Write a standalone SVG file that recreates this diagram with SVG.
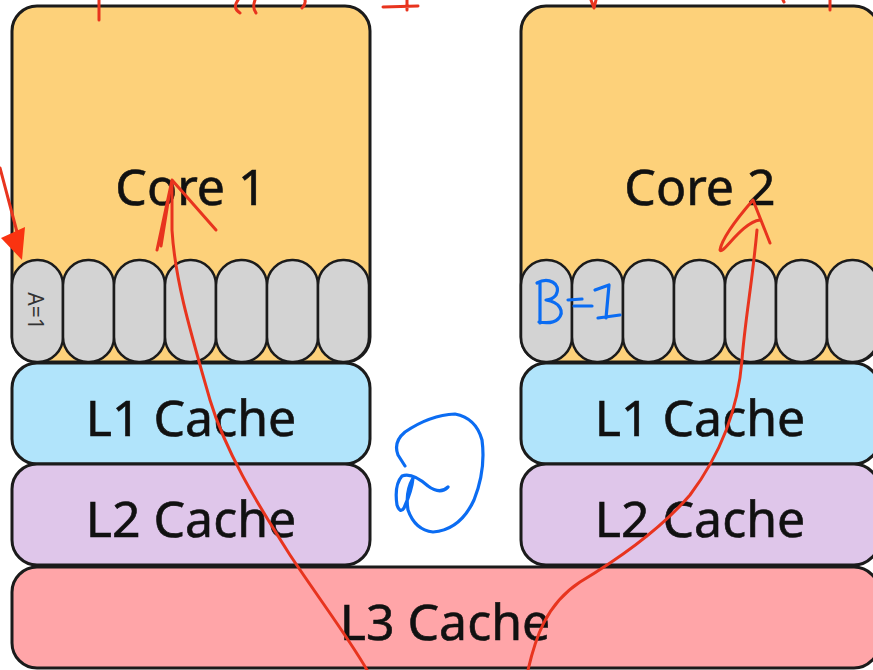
<svg xmlns="http://www.w3.org/2000/svg" width="873" height="670" viewBox="0 0 873 670">
<style>
.box{stroke:#1b1b1b;stroke-width:3}
.core{fill:#fdd17a}
.reg{fill:#d3d3d3;stroke:#1b1b1b;stroke-width:2.5}
.l1{fill:#b1e4fb}
.l2{fill:#dfc6ea}
.l3{fill:#ffa5a8}
.lbl{font-family:"Noto Sans","Open Sans",sans-serif;font-size:50px;fill:#111;stroke:#111;stroke-width:0.6;text-anchor:middle}
.red{fill:none;stroke:#e8341e;stroke-width:3;stroke-linecap:round;stroke-linejoin:round}
.blue{fill:none;stroke:#0b6cf2;stroke-width:3.2;stroke-linecap:round;stroke-linejoin:round}
</style>
<rect width="873" height="670" fill="#ffffff"/>
<g id="core1">
<rect class="box core" x="12" y="6" width="358" height="356" rx="25"/>
<text class="lbl" x="191" y="205">Core 1</text>
</g>
<g id="regs1">
<rect class="reg" x="12" y="260" width="51" height="102" rx="25"/>
<rect class="reg" x="63" y="260" width="51" height="102" rx="25"/>
<rect class="reg" x="114" y="260" width="51" height="102" rx="25"/>
<rect class="reg" x="165" y="260" width="51" height="102" rx="25"/>
<rect class="reg" x="216" y="260" width="51" height="102" rx="25"/>
<rect class="reg" x="267" y="260" width="51" height="102" rx="25"/>
<rect class="reg" x="318" y="260" width="51" height="102" rx="25"/>
<text x="36" y="311" transform="rotate(90 36 311)" font-family="Noto Sans, sans-serif" font-size="21" fill="#333" text-anchor="middle" dominant-baseline="central">A=1</text>
</g>
<g id="l1a">
<rect class="box l1" x="12" y="363" width="358" height="101" rx="25"/>
<text class="lbl" x="191" y="436">L1 Cache</text>
</g>
<g id="l2a">
<rect class="box l2" x="12" y="464" width="358" height="101" rx="25"/>
<text class="lbl" x="191" y="537">L2 Cache</text>
</g>
<g id="core2">
<rect class="box core" x="521" y="6" width="358" height="356" rx="25"/>
<text class="lbl" x="700" y="205">Core 2</text>
</g>
<g id="regs2">
<rect class="reg" x="521" y="260" width="51" height="102" rx="25"/>
<rect class="reg" x="572" y="260" width="51" height="102" rx="25"/>
<rect class="reg" x="623" y="260" width="51" height="102" rx="25"/>
<rect class="reg" x="674" y="260" width="51" height="102" rx="25"/>
<rect class="reg" x="725" y="260" width="51" height="102" rx="25"/>
<rect class="reg" x="776" y="260" width="51" height="102" rx="25"/>
<rect class="reg" x="827" y="260" width="51" height="102" rx="25"/>
</g>
<g id="l1b">
<rect class="box l1" x="521" y="363" width="358" height="101" rx="25"/>
<text class="lbl" x="700" y="436">L1 Cache</text>
</g>
<g id="l2b">
<rect class="box l2" x="521" y="464" width="358" height="101" rx="25"/>
<text class="lbl" x="700" y="537">L2 Cache</text>
</g>
<g id="l3">
<rect class="box l3" x="12" y="567" width="867" height="101" rx="25"/>
<text class="lbl" x="445" y="640">L3 Cache</text>
</g>
<g id="annotations">
<path class="red" d="M99,0 L99,20"/>
<path class="red" d="M238,0 Q232,8 240,13 M255,0 Q252,8 256,13 M305,0 Q306,4 302,8"/>
<path class="red" d="M383,7 L418,6 M407,0 L407,10"/>
<path class="red" d="M591,0 L594,8 L596,0 M783,0 L784,2 M830,0 L830,10"/>
<path class="red" d="M0,168 L17,232"/>
<polygon points="1,238 25,227 22,260" fill="#fa3311"/>
<path class="red" d="M367,670 C350,640 320,600 290,555 C255,500 225,450 210,400 C190,330 175,280 172,230 L172,182"/>
<path class="red" d="M157,250 L172,180 L216,230 M161,246 L170,190"/>
<path class="red" d="M528,670 C535,640 545,605 580,582 C620,558 660,530 690,495 C720,455 738,410 742,360 C745,320 752,285 757,230"/>
<path class="red" d="M770,243 L753,200 C740,215 722,238 720,250 C722,256 742,222 760,220"/>
<path class="blue" d="M540,282 L540,323 M537,283 C548,277 562,283 556,295 C552,300 546,300 546,300 C560,302 565,312 558,319 C553,324 545,323 539,322"/>
<path class="blue" d="M568,300 L582,299 M574,306 L592,306"/>
<path class="blue" d="M595,290 L609,285 L606,318 M598,318 L620,315"/>
<path class="blue" d="M448,487 Q440,495 428,486 Q412,472 402,476 Q394,485 397,505 Q400,514 404,508 Q412,490 413,478 Q405,492 408,510 Q415,530 433,532 Q460,530 474,500 Q486,470 482,440 Q476,418 455,414 Q430,415 405,432 Q393,442 398,455 L405,466"/>
</g>
</svg>
